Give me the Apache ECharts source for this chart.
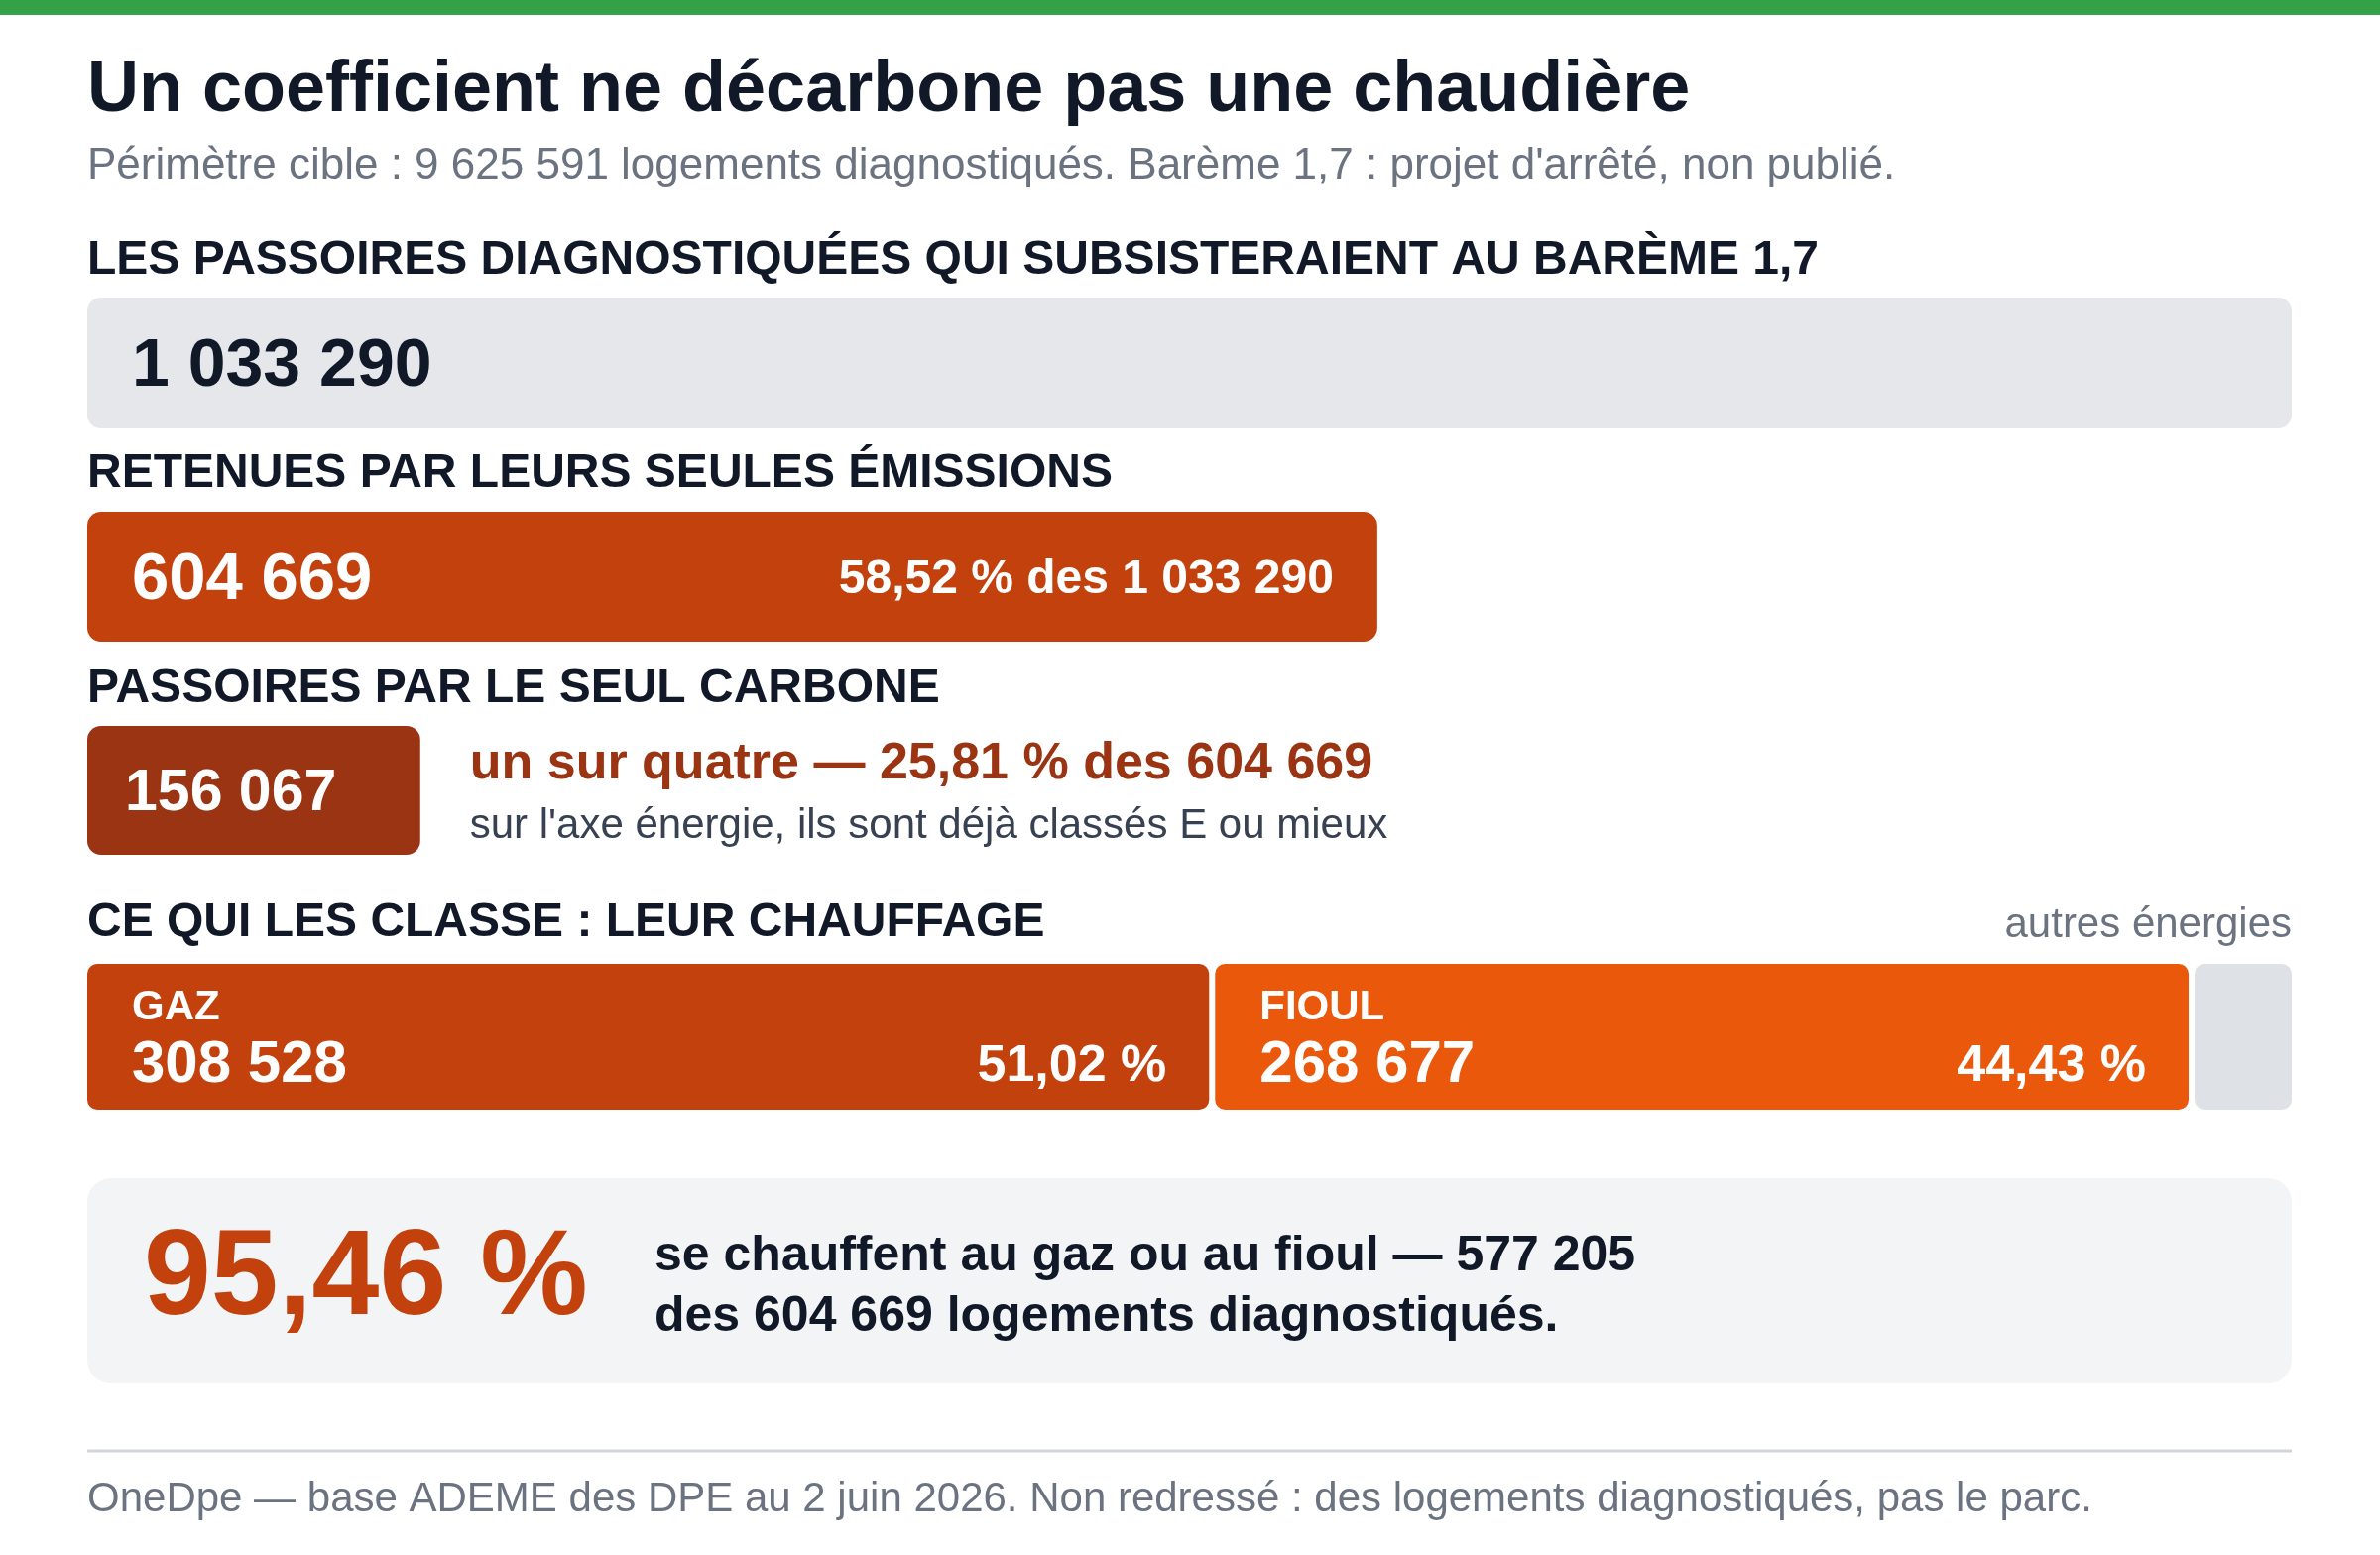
<!DOCTYPE html>
<html lang="fr">
<head>
<meta charset="utf-8">
<title>Un coefficient ne décarbone pas une chaudière</title>
<script src="https://cdn.jsdelivr.net/npm/echarts@6/dist/echarts.min.js"></script>
<style>
  html, body { margin: 0; padding: 0; background: #fff; }
  #chart { width: 2400px; height: 1568px; }
</style>
</head>
<body>
<div id="chart"></div>
<script>
// valeurs
const rowKeys = ['subsistent', 'emissions', 'carbone'];
const rowValues = [1033290, 604669, 156067];
const heatingNames = ['GAZ', 'FIOUL', 'autres énergies'];
const heatingValues = [308528, 268677, 27464];

const FONT = '"Liberation Sans", Arial, Helvetica, sans-serif';
const DARK = '#111827';
const GREY = '#6b7280';
const heatingColors = ['#c2410c', '#ea580c', '#dee1e6'];

const L = 88, R = 89; // marges gauche / droite

function fmt(n) {
    return String(n).replace(/\B(?=(\d{3})+(?!\d))/g, ' ');
}
function pct(a, b) {
    return (a / b * 100).toFixed(2).replace('.', ',') + ' %';
}
// décalage vertical pour centrer les capitales
function dy(size) {
    return Math.round(size * 0.065);
}

// segments empilés du chauffage
let acc = 0;
const heatingData = heatingValues.map(function (v, i) {
    const seg = [acc, acc + v, i];
    acc += v;
    return seg;
});
const gazFioul = heatingValues[0] + heatingValues[1];

function txt(x, y, text, size, color, weight, align) {
    return {
        type: 'text', x: x, y: y + dy(size), silent: true,
        style: {
            text: text,
            font: (weight || 'normal') + ' ' + size + 'px ' + FONT,
            fill: color,
            align: align || 'left', verticalAlign: 'middle',
            textAlign: align || 'left', textVerticalAlign: 'middle'
        }
    };
}

const grids = [
    { left: L, right: R, top: 300, height: 132 },
    { left: L, right: R, top: 516, height: 131 },
    { left: L, right: R, top: 732, height: 130 },
    { left: L, right: R, top: 972, height: 147 }
];

const xAxes = grids.map(function (g, i) {
    return { type: 'value', gridIndex: i, min: 0, max: i < 3 ? rowValues[0] : rowValues[1], show: false };
});
const yAxes = grids.map(function (g, i) {
    return { type: 'category', gridIndex: i, data: [i < 3 ? rowKeys[i] : 'chauffage'], show: false };
});

function barLabel(pos, dist, size, color, formatter) {
    return {
        show: true, position: pos, distance: dist, offset: [0, dy(size)],
        fontFamily: FONT, fontWeight: 'bold', fontSize: size, color: color,
        formatter: formatter
    };
}

let option = {
    animation: false,
    backgroundColor: '#ffffff',
    grid: grids,
    xAxis: xAxes,
    yAxis: yAxes,
    series: [
        {
            type: 'bar', xAxisIndex: 0, yAxisIndex: 0, silent: true,
            data: [rowValues[0]], barWidth: '100%',
            itemStyle: { color: '#e5e7eb', borderRadius: 14 },
            label: barLabel('insideLeft', 45, 68, DARK, function (p) { return fmt(p.value); })
        },
        {
            type: 'bar', xAxisIndex: 1, yAxisIndex: 1, silent: true,
            data: [rowValues[1]], barWidth: '100%', barGap: '-100%',
            itemStyle: { color: '#c2410c', borderRadius: 14 },
            label: barLabel('insideLeft', 45, 67, '#fff', function (p) { return fmt(p.value); })
        },
        {
            type: 'bar', xAxisIndex: 1, yAxisIndex: 1, silent: true,
            data: [rowValues[1]], barWidth: '100%', barGap: '-100%',
            itemStyle: { color: 'rgba(0,0,0,0)' },
            label: barLabel('insideRight', 44, 48, '#fff', function (p) {
                return pct(p.value, rowValues[0]) + ' des ' + fmt(rowValues[0]);
            })
        },
        {
            type: 'bar', xAxisIndex: 2, yAxisIndex: 2, silent: true,
            data: [rowValues[2]], barWidth: '100%', barGap: '-100%',
            itemStyle: { color: '#9a3412', borderRadius: 14 },
            label: barLabel('insideLeft', 38, 59, '#fff', function (p) { return fmt(p.value); })
        },
        {
            type: 'bar', xAxisIndex: 2, yAxisIndex: 2, silent: true,
            data: [rowValues[2]], barWidth: '100%', barGap: '-100%',
            itemStyle: { color: 'rgba(0,0,0,0)' },
            label: {
                show: true, position: 'right', distance: 50, offset: [0, 5],
                formatter: function (p) {
                    return '{a|un sur quatre — ' + pct(p.value, rowValues[1]) + ' des ' + fmt(rowValues[1]) + '}\n' +
                        '{b|sur l\'axe énergie, ils sont déjà classés E ou mieux}';
                },
                rich: {
                    a: { fontFamily: FONT, fontWeight: 'bold', fontSize: 52, color: '#9a3412', lineHeight: 62 },
                    b: { fontFamily: FONT, fontSize: 42, color: '#374151', lineHeight: 62 }
                }
            }
        },
        {
            type: 'custom', xAxisIndex: 3, yAxisIndex: 3, silent: true,
            data: heatingData,
            encode: { x: [0, 1], y: 2 },
            renderItem: function (params, api) {
                const i = api.value(2);
                const p0 = api.coord([api.value(0), 0]);
                const p1 = api.coord([api.value(1), 0]);
                const h = api.size([0, 1])[1];
                const gl = i === 0 ? 0 : 3;
                const gr = i === heatingValues.length - 1 ? 0 : 3;
                const x = p0[0] + gl;
                const w = p1[0] - p0[0] - gl - gr;
                const y = p0[1] - h / 2;
                const children = [{
                    type: 'rect',
                    shape: { x: x, y: y, width: w, height: h, r: 10 },
                    style: { fill: heatingColors[i] }
                }];
                if (i < 2) {
                    children.push(txt(x + 45, y + 41, heatingNames[i], 42, '#fff', 'bold'));
                    children.push(txt(x + 45, y + 98, fmt(heatingValues[i]), 60, '#fff', 'bold'));
                    children.push(txt(x + w - 43, y + 101, pct(heatingValues[i], rowValues[1]), 52, '#fff', 'bold', 'right'));
                }
                return { type: 'group', children: children };
            }
        }
    ],
    graphic: [
        { type: 'rect', silent: true, shape: { x: 0, y: 0, width: 2400, height: 15 }, style: { fill: '#34a047' } },
        txt(L, 87, 'Un coefficient ne décarbone pas une chaudière', 72, DARK, 'bold'),
        txt(L, 165, 'Périmètre cible : 9 625 591 logements diagnostiqués. Barème 1,7 : projet d\'arrêté, non publié.', 44, GREY),
        txt(L, 260, 'LES PASSOIRES DIAGNOSTIQUÉES QUI SUBSISTERAIENT AU BARÈME 1,7', 48, DARK, 'bold'),
        txt(L, 475, 'RETENUES PAR LEURS SEULES ÉMISSIONS', 48, DARK, 'bold'),
        txt(L, 692, 'PASSOIRES PAR LE SEUL CARBONE', 48, DARK, 'bold'),
        txt(L, 928, 'CE QUI LES CLASSE : LEUR CHAUFFAGE', 48, DARK, 'bold'),
        txt(2400 - R, 930, heatingNames[2], 42, GREY, 'normal', 'right'),
        { type: 'rect', silent: true, shape: { x: L, y: 1188, width: 2400 - L - R, height: 207, r: 24 }, style: { fill: '#f3f4f6' } },
        txt(145, 1283, pct(gazFioul, rowValues[1]), 122, '#c2410c', 'bold'),
        txt(660, 1264, 'se chauffent au gaz ou au fioul — ' + fmt(gazFioul), 50, DARK, 'bold'),
        txt(660, 1325, 'des ' + fmt(rowValues[1]) + ' logements diagnostiqués.', 50, DARK, 'bold'),
        { type: 'line', silent: true, shape: { x1: L, y1: 1463, x2: 2400 - R, y2: 1463 }, style: { stroke: '#d1d5db', lineWidth: 3 } },
        txt(L, 1509, 'OneDpe — base ADEME des DPE au 2 juin 2026. Non redressé : des logements diagnostiqués, pas le parc.', 42, GREY)
    ]
};

echarts.init(document.getElementById('chart')).setOption(option);
</script>
</body>
</html>
